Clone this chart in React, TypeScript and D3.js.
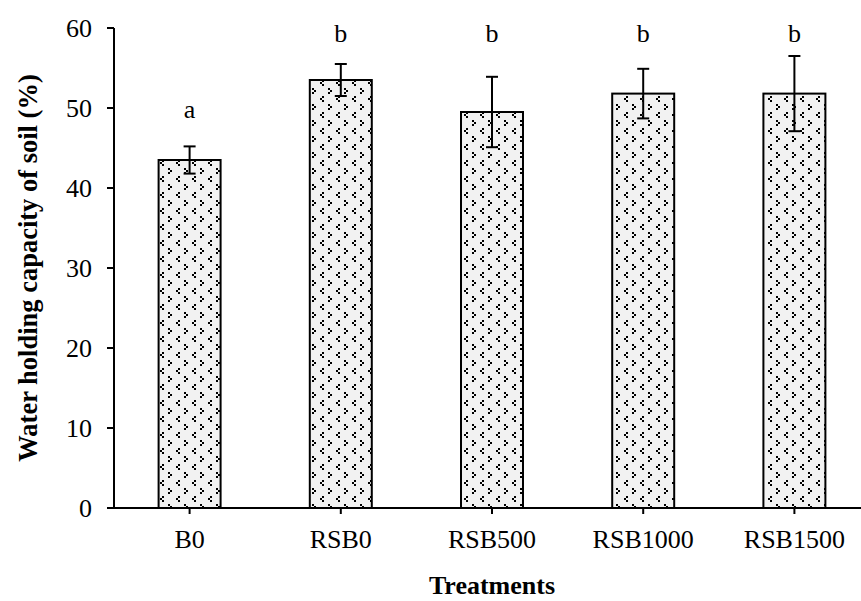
import React from "react";
import * as d3 from "d3";

const treatments = ["B0", "RSB0", "RSB500", "RSB1000", "RSB1500"];
const means = [43.5, 53.5, 49.5, 51.8, 51.8];
const errors = [1.7, 2.0, 4.4, 3.1, 4.7];
const letters = ["a", "b", "b", "b", "b"];
const letterLevels = [48.8, 58.2, 58.2, 58.2, 58.2];
const yTicks = [0, 10, 20, 30, 40, 50, 60];

const width = 861;
const height = 601;
const margin = { top: 28, right: -9, bottom: 93, left: 114 };
const font = "'Liberation Serif', 'Times New Roman', serif";

const App = () => {
  const x = d3
    .scaleBand()
    .domain(treatments)
    .range([margin.left, width - margin.right])
    .paddingInner(0.59)
    .paddingOuter(0.295);

  const y = d3
    .scaleLinear()
    .domain([0, 60])
    .range([height - margin.bottom, margin.top]);

  const y0 = y(0);
  const bw = x.bandwidth();

  return (
    <svg
      width={width}
      height={height}
      style={{ position: "absolute", left: 0, top: 0, background: "white" }}
    >
      <defs>
        <pattern id="dots" width={16} height={16} patternUnits="userSpaceOnUse">
          <rect width={16} height={16} fill="#f2f2f2" />
          {/* "<" mark */}
          <rect x={2} y={0} width={2} height={2} fill="black" />
          <rect x={0} y={2} width={2} height={2} fill="black" />
          <rect x={2} y={4} width={2} height={2} fill="black" />
          {/* ">" mark */}
          <rect x={8} y={8} width={2} height={2} fill="black" />
          <rect x={10} y={10} width={2} height={2} fill="black" />
          <rect x={8} y={12} width={2} height={2} fill="black" />
        </pattern>
      </defs>

      {/* bars */}
      {treatments.map((t, i) => (
        <rect
          key={t}
          x={x(t)}
          y={y(means[i])}
          width={bw}
          height={y0 - y(means[i])}
          fill="url(#dots)"
          stroke="black"
          strokeWidth={2}
        />
      ))}

      {/* error bars */}
      {treatments.map((t, i) => {
        const cx = (x(t) as number) + bw / 2;
        const top = y(means[i] + errors[i]);
        const bot = y(means[i] - errors[i]);
        return (
          <g key={t} stroke="black" strokeWidth={2}>
            <line x1={cx} x2={cx} y1={top} y2={bot} />
            <line x1={cx - 6} x2={cx + 6} y1={top} y2={top} />
            <line x1={cx - 6} x2={cx + 6} y1={bot} y2={bot} />
          </g>
        );
      })}

      {/* significance letters */}
      {treatments.map((t, i) => (
        <text
          key={t}
          x={(x(t) as number) + bw / 2}
          y={y(letterLevels[i])}
          textAnchor="middle"
          fontFamily={font}
          fontSize={26}
        >
          {letters[i]}
        </text>
      ))}

      {/* y axis */}
      <line x1={margin.left} x2={margin.left} y1={y(60)} y2={y0} stroke="black" strokeWidth={2} />
      {yTicks.map((v) => (
        <g key={v}>
          <line x1={margin.left - 7} x2={margin.left} y1={y(v)} y2={y(v)} stroke="black" strokeWidth={2} />
          <text
            x={margin.left - 22}
            y={y(v)}
            dy="0.35em"
            textAnchor="end"
            fontFamily={font}
            fontSize={26}
          >
            {v}
          </text>
        </g>
      ))}

      {/* x axis */}
      <line x1={margin.left - 7} x2={width} y1={y0} y2={y0} stroke="black" strokeWidth={2} />
      {treatments.map((t) => {
        const cx = (x(t) as number) + bw / 2;
        return (
          <g key={t}>
            <line x1={cx} x2={cx} y1={y0} y2={y0 + 6} stroke="black" strokeWidth={2} />
            <text x={cx} y={548} textAnchor="middle" fontFamily={font} fontSize={26}>
              {t}
            </text>
          </g>
        );
      })}

      {/* axis titles */}
      <text
        x={(margin.left + width - margin.right) / 2}
        y={594}
        textAnchor="middle"
        fontFamily={font}
        fontSize={26}
        fontWeight="bold"
      >
        Treatments
      </text>
      <text
        transform={`translate(37,${(y(60) + y0) / 2}) rotate(-90)`}
        textAnchor="middle"
        fontFamily={font}
        fontSize={26.5}
        fontWeight="bold"
      >
        Water holding capacity of soil (%)
      </text>
    </svg>
  );
};

export default App;
